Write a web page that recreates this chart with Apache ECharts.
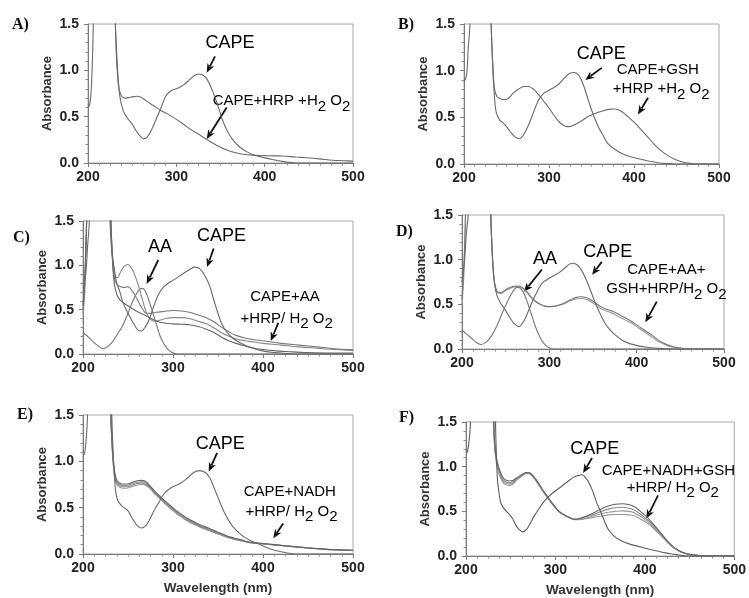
<!DOCTYPE html>
<html>
<head>
<meta charset="utf-8">
<script src="https://cdn.jsdelivr.net/npm/echarts/dist/echarts.min.js"></script>
<style>
  html, body { margin: 0; background: #fff; }
  #chart { width: 749px; height: 598px; }
</style>
</head>
<body>
<div id="chart"></div>
<script>
// UV-vis spectra, [wavelength nm, absorbance]; 3 = off scale (clipped at 1.5)
const A_cape = [[200,0.6],[202,0.63],[204,0.85],[206,1.5],[208,3],[229,3],[231,1.5],[233,1.0],[236,0.72],[240,0.56],[245,0.48],[250,0.42],[255,0.34],[260,0.28],[263,0.26],[267,0.28],[272,0.36],[277,0.47],[282,0.58],[288,0.72],[294,0.78],[300,0.8],[308,0.84],[315,0.9],[320,0.94],[325,0.96],[330,0.95],[335,0.9],[340,0.8],[346,0.65],[352,0.47],[358,0.34],[364,0.25],[372,0.17],[380,0.12],[390,0.08],[400,0.055],[410,0.035],[420,0.018],[430,0.006],[440,0],[500,0]];
const A_oxid = [[229,3],[231,1.5],[233,1.1],[235,0.82],[238,0.72],[242,0.7],[248,0.71],[255,0.72],[260,0.71],[266,0.67],[274,0.62],[282,0.57],[290,0.53],[297,0.49],[305,0.44],[312,0.39],[320,0.34],[327,0.3],[335,0.25],[342,0.21],[350,0.17],[357,0.14],[365,0.115],[372,0.1],[385,0.085],[395,0.08],[410,0.077],[421,0.075],[435,0.065],[447,0.057],[462,0.045],[477,0.03],[490,0.025],[500,0.02]];

const B_cape = [[200,0.88],[203,0.95],[205,1.25],[207,1.5],[209,3],[230,3],[232,1.5],[234,1.0],[236,0.7],[238,0.55],[242,0.47],[246,0.44],[250,0.4],[255,0.34],[260,0.29],[265,0.27],[270,0.31],[276,0.42],[282,0.56],[288,0.69],[294,0.76],[300,0.79],[306,0.82],[312,0.86],[318,0.92],[324,0.97],[330,0.98],[335,0.95],[340,0.86],[346,0.69],[352,0.53],[358,0.4],[364,0.3],[369,0.22],[377,0.16],[385,0.115],[395,0.08],[408,0.05],[418,0.03],[428,0.014],[440,0.004],[450,0],[500,0]];
const B_gsh = [[230,3],[232,1.5],[234,1.05],[236,0.8],[239,0.72],[243,0.7],[248,0.69],[252,0.7],[258,0.76],[264,0.8],[270,0.83],[276,0.83],[282,0.8],[288,0.74],[294,0.67],[300,0.6],[306,0.52],[312,0.45],[318,0.41],[323,0.4],[330,0.42],[338,0.46],[346,0.51],[354,0.54],[362,0.565],[370,0.585],[377,0.59],[384,0.57],[390,0.53],[396,0.48],[401,0.44],[408,0.37],[416,0.29],[424,0.21],[432,0.14],[440,0.09],[448,0.05],[456,0.025],[464,0.01],[472,0],[500,0]];

const C_cape = [[200,0.75],[203,0.9],[205,1.2],[207,1.5],[209,3],[228,3],[230,1.5],[232,1.15],[235,0.95],[237,0.82],[241,0.7],[244,0.59],[248,0.5],[252,0.42],[257,0.33],[261,0.27],[265,0.26],[269,0.3],[274,0.4],[278,0.52],[282,0.63],[286,0.71],[290,0.76],[295,0.8],[300,0.83],[306,0.87],[312,0.91],[318,0.95],[324,0.98],[330,0.96],[335,0.89],[341,0.76],[345,0.62],[349,0.49],[353,0.37],[358,0.27],[364,0.2],[372,0.14],[382,0.09],[392,0.055],[402,0.03],[414,0.015],[425,0.005],[435,0],[500,0]];
const C_aa = [[200,0.24],[205,0.2],[211,0.14],[217,0.09],[222,0.06],[227,0.08],[233,0.14],[238,0.22],[244,0.32],[250,0.46],[255,0.59],[260,0.69],[265,0.74],[268,0.73],[271,0.67],[275,0.55],[278,0.45],[282,0.32],[285,0.22],[289,0.13],[293,0.07],[297,0.03],[301,0.01],[305,0],[500,0]];
const C_mix1 = [[200,0.45],[202,0.7],[204,1.5],[206,3],[229,3],[231,1.5],[233,1.1],[235,0.88],[238,0.86],[242,0.93],[246,0.99],[250,1.01],[253,0.98],[256,0.93],[259,0.85],[262,0.76],[265,0.65],[268,0.54],[271,0.45],[275,0.39],[279,0.37],[285,0.38],[292,0.4],[300,0.41],[310,0.41],[318,0.4],[328,0.37],[337,0.34],[346,0.29],[354,0.24],[362,0.2],[370,0.17],[380,0.15],[390,0.135],[400,0.12],[420,0.1],[440,0.08],[460,0.065],[480,0.05],[500,0.04]];
const C_mix2 = [[200,0.5],[202,0.8],[204,1.5],[206,3],[229,3],[231,1.5],[233,1.05],[235,0.85],[238,0.78],[242,0.76],[246,0.75],[250,0.76],[254,0.72],[258,0.66],[262,0.58],[266,0.51],[270,0.46],[275,0.46],[281,0.47],[290,0.48],[300,0.49],[310,0.485],[318,0.47],[328,0.44],[337,0.41],[346,0.36],[354,0.3],[362,0.25],[370,0.21],[380,0.18],[390,0.16],[400,0.15],[420,0.12],[440,0.1],[460,0.08],[480,0.06],[500,0.05]];
const C_mix3 = [[200,0.55],[202,0.9],[204,1.5],[206,3],[229,3],[231,1.5],[233,1.0],[235,0.78],[238,0.66],[241,0.61],[246,0.57],[252,0.53],[258,0.49],[264,0.46],[270,0.43],[276,0.4],[282,0.37],[290,0.35],[300,0.34],[310,0.335],[318,0.33],[328,0.31],[337,0.28],[346,0.24],[354,0.19],[362,0.15],[370,0.12],[380,0.09],[390,0.065],[400,0.05],[415,0.035],[430,0.025],[450,0.015],[475,0.01],[500,0.01]];

const D_cape = [[200,0.75],[203,1.0],[205,1.3],[207,1.5],[209,3],[231,3],[233,1.5],[235,1.0],[237,0.75],[240,0.6],[245,0.5],[250,0.43],[255,0.35],[260,0.28],[265,0.25],[270,0.3],[275,0.4],[280,0.52],[286,0.64],[292,0.74],[298,0.78],[305,0.82],[312,0.86],[318,0.91],[323,0.95],[327,0.96],[332,0.94],[337,0.88],[342,0.78],[347,0.66],[352,0.53],[357,0.42],[362,0.32],[368,0.23],[375,0.16],[383,0.1],[392,0.06],[402,0.035],[412,0.02],[425,0.007],[440,0],[500,0]];
const D_aa = [[200,0.21],[205,0.17],[211,0.12],[217,0.07],[222,0.05],[228,0.08],[234,0.15],[240,0.26],[246,0.4],[252,0.53],[258,0.64],[263,0.69],[267,0.68],[271,0.62],[275,0.52],[279,0.4],[283,0.28],[287,0.18],[291,0.1],[295,0.05],[300,0.015],[305,0],[500,0]];
const D_mix1 = [[200,0.5],[202,0.8],[204,1.5],[206,3],[231,3],[233,1.5],[235,1.0],[237,0.75],[240,0.64],[244,0.62],[248,0.64],[253,0.67],[258,0.69],[263,0.7],[268,0.69],[273,0.65],[278,0.59],[283,0.54],[289,0.5],[295,0.475],[300,0.47],[306,0.475],[312,0.49],[318,0.51],[324,0.54],[330,0.56],[336,0.565],[341,0.56],[346,0.54],[352,0.5],[358,0.46],[364,0.43],[370,0.41],[376,0.38],[382,0.35],[388,0.32],[394,0.29],[400,0.25],[406,0.21],[412,0.17],[418,0.13],[424,0.09],[430,0.06],[436,0.035],[442,0.02],[450,0.008],[458,0.002],[465,0],[500,0]];
const D_mix2 = [[200,0.55],[202,0.9],[204,1.5],[206,3],[231,3],[233,1.5],[235,1.02],[237,0.77],[240,0.65],[244,0.63],[248,0.65],[253,0.68],[258,0.7],[263,0.705],[268,0.695],[273,0.655],[278,0.595],[283,0.545],[289,0.505],[295,0.48],[300,0.475],[306,0.48],[312,0.495],[318,0.52],[324,0.55],[330,0.575],[336,0.585],[341,0.58],[346,0.56],[352,0.52],[358,0.48],[364,0.45],[370,0.43],[376,0.405],[382,0.375],[388,0.345],[394,0.31],[400,0.27],[406,0.23],[412,0.19],[418,0.15],[424,0.105],[430,0.07],[436,0.045],[442,0.025],[450,0.01],[460,0.002],[470,0],[500,0]];

const E_cape = [[200,1.05],[202,1.1],[204,1.3],[205,1.5],[207,3],[230,3],[232,1.5],[234,1.0],[236,0.7],[238.5,0.58],[243,0.52],[249.6,0.47],[255,0.38],[260,0.31],[265,0.28],[270,0.31],[275,0.39],[279,0.47],[285,0.57],[290,0.65],[297,0.71],[303,0.74],[308,0.76],[315,0.81],[323,0.88],[329,0.9],[336,0.88],[341,0.82],[345,0.73],[350,0.61],[356,0.47],[362,0.36],[367,0.29],[372,0.24],[378,0.19],[387,0.14],[397,0.1],[404,0.07],[411,0.045],[420,0.025],[426,0.014],[437,0],[500,0]];
const E_mix1 = [[229,3],[231,1.5],[233,1.1],[235,0.9],[237,0.81],[240,0.77],[244,0.755],[248,0.755],[254,0.77],[260,0.79],[265,0.795],[270,0.78],[275,0.73],[280,0.675],[286,0.62],[292,0.565],[298,0.515],[304,0.465],[310,0.425],[316,0.385],[323,0.35],[330,0.315],[338,0.285],[345,0.255],[353,0.225],[360,0.195],[367,0.175],[375,0.155],[382,0.135],[390,0.122],[404,0.11],[415,0.098],[426,0.088],[437,0.078],[448,0.068],[462,0.058],[477,0.048],[490,0.043],[500,0.04]];
const E_mix2 = [[229,3],[231,1.5],[233,1.08],[235,0.88],[237,0.79],[240,0.755],[244,0.74],[248,0.74],[254,0.755],[260,0.775],[265,0.78],[270,0.765],[275,0.72],[280,0.665],[286,0.61],[292,0.555],[298,0.505],[304,0.455],[310,0.415],[316,0.375],[323,0.34],[330,0.305],[338,0.275],[345,0.245],[353,0.215],[360,0.19],[367,0.168],[375,0.15],[382,0.132],[390,0.12],[404,0.108],[415,0.097],[426,0.087],[437,0.077],[448,0.067],[462,0.057],[477,0.047],[490,0.042],[500,0.04]];
const E_mix3 = [[229,3],[231,1.5],[233,1.06],[235,0.86],[237,0.775],[240,0.74],[244,0.725],[248,0.725],[254,0.74],[260,0.76],[265,0.765],[270,0.75],[275,0.71],[280,0.655],[286,0.6],[292,0.545],[298,0.495],[304,0.445],[310,0.405],[316,0.365],[323,0.33],[330,0.297],[338,0.267],[345,0.238],[353,0.21],[360,0.185],[367,0.164],[375,0.146],[382,0.13],[390,0.118],[404,0.106],[415,0.096],[426,0.086],[437,0.076],[448,0.066],[462,0.056],[477,0.046],[490,0.041],[500,0.04]];
const E_mix4 = [[229,3],[231,1.5],[233,1.04],[235,0.84],[237,0.76],[240,0.725],[244,0.71],[248,0.71],[254,0.725],[260,0.745],[265,0.75],[270,0.74],[275,0.7],[280,0.645],[286,0.59],[292,0.535],[298,0.485],[304,0.435],[310,0.395],[316,0.355],[323,0.32],[330,0.29],[338,0.26],[345,0.232],[353,0.205],[360,0.18],[367,0.16],[375,0.143],[382,0.128],[390,0.116],[404,0.104],[415,0.095],[426,0.085],[437,0.075],[448,0.065],[462,0.055],[477,0.045],[490,0.04],[500,0.038]];

const F_cape = [[201,1.15],[203,1.25],[205,1.5],[207,3],[231,3],[233,1.5],[235,0.88],[237,0.7],[239,0.59],[242.6,0.53],[248,0.47],[252,0.42],[255.5,0.35],[259,0.3],[263.7,0.27],[268,0.3],[272,0.37],[277,0.46],[283,0.55],[288,0.62],[294,0.68],[300,0.73],[305.5,0.77],[312,0.82],[320,0.88],[325,0.9],[329.6,0.91],[335,0.86],[339,0.79],[342.6,0.7],[346,0.6],[350,0.51],[354,0.41],[359,0.3],[366,0.22],[373.5,0.17],[384,0.13],[395.6,0.1],[405,0.075],[414,0.055],[423,0.035],[432,0.02],[440,0.008],[448,0],[500,0]];
const F_mix1 = [[229,3],[231,1.5],[232,1.28],[234,1.1],[237,0.98],[240,0.9],[243,0.86],[248,0.84],[252,0.845],[256,0.87],[262,0.91],[267,0.935],[270,0.935],[274,0.91],[278,0.86],[282,0.8],[287,0.72],[292,0.65],[298,0.57],[304,0.5],[310,0.46],[316,0.43],[322,0.41],[330,0.43],[340,0.47],[350,0.52],[359,0.56],[367,0.58],[375,0.585],[382,0.575],[388,0.555],[395,0.5],[403,0.43],[410,0.35],[417.6,0.26],[425,0.17],[432,0.1],[440,0.05],[447,0.025],[455,0.01],[462,0.003],[470,0],[500,0]];
const F_mix2 = [[229,3],[231,1.5],[232,1.26],[234,1.08],[237,0.96],[240,0.88],[243,0.84],[248,0.82],[252,0.83],[256,0.86],[262,0.9],[267,0.93],[270,0.93],[274,0.905],[278,0.855],[282,0.795],[287,0.72],[292,0.65],[298,0.57],[304,0.5],[310,0.46],[316,0.43],[322,0.41],[330,0.425],[340,0.455],[350,0.495],[359,0.525],[367,0.54],[375,0.545],[382,0.535],[388,0.515],[395,0.47],[403,0.405],[410,0.335],[417.6,0.25],[425,0.165],[432,0.1],[440,0.05],[447,0.025],[455,0.01],[462,0.003],[470,0],[500,0]];
const F_mix3 = [[229,3],[231,1.5],[232,1.24],[234,1.06],[237,0.94],[240,0.86],[243,0.82],[248,0.805],[252,0.815],[256,0.85],[262,0.895],[267,0.925],[270,0.925],[274,0.9],[278,0.85],[282,0.79],[287,0.715],[292,0.645],[298,0.565],[304,0.5],[310,0.46],[316,0.43],[322,0.41],[330,0.42],[340,0.44],[350,0.47],[359,0.49],[367,0.5],[375,0.505],[382,0.5],[388,0.485],[395,0.445],[403,0.385],[410,0.32],[417.6,0.24],[425,0.16],[432,0.095],[440,0.048],[447,0.024],[455,0.01],[462,0.003],[470,0],[500,0]];
const F_mix4 = [[229,3],[231,1.5],[232,1.22],[234,1.04],[237,0.92],[240,0.845],[243,0.805],[248,0.79],[252,0.8],[256,0.84],[262,0.89],[267,0.92],[270,0.92],[274,0.895],[278,0.845],[282,0.785],[287,0.71],[292,0.64],[298,0.56],[304,0.495],[310,0.455],[316,0.425],[322,0.405],[330,0.41],[340,0.425],[350,0.445],[359,0.46],[367,0.465],[375,0.465],[382,0.46],[388,0.45],[395,0.415],[403,0.365],[410,0.305],[417.6,0.23],[425,0.155],[432,0.092],[440,0.046],[447,0.023],[455,0.01],[462,0.003],[470,0],[500,0]];

const xTicks = [200, 300, 400, 500];
const yTicks = [0, 0.5, 1.0, 1.5];

const H2O2 = '{s|2}{a| O}{s|2}';
const panels = [
  {tag: 'A)', box: [88, 24, 265, 139], tagAt: [12, 25], xName: false,
   lines: [[A_cape, '#6a6a6a'], [A_oxid, '#6a6a6a']],
   notes: [[360.7, 1.29, '{b|CAPE}'], [419, 0.67, '{a|CAPE+HRP +H}' + H2O2]],
   arrows: [[343.8, 1.15, 334.4, 0.975], [357, 0.6, 334.4, 0.26]]},
  {tag: 'B)', box: [464, 24, 255, 140], tagAt: [398, 25], xName: false,
   lines: [[B_cape, '#6a6a6a'], [B_gsh, '#6a6a6a']],
   notes: [[361.6, 1.18, '{b|CAPE}'], [428, 1.01, '{a|CAPE+GSH}'], [432, 0.8, '{a|+HRP +H}' + H2O2]],
   arrows: [[362, 1.03, 342.7, 0.9], [416.5, 0.71, 404.7, 0.53]]},
  {tag: 'C)', box: [83, 221, 270, 133], tagAt: [13, 238], xName: false,
   lines: [[C_aa, '#777'], [C_mix1, '#888'], [C_mix2, '#777'], [C_mix3, '#666'], [C_cape, '#6a6a6a']],
   notes: [[285.6, 1.21, '{b|AA}'], [354, 1.33, '{b|CAPE}'], [424.4, 0.64, '{a|CAPE+AA}'], [426.3, 0.4, '{a|+HRP/ H}' + H2O2]],
   arrows: [[283.7, 1.06, 270.7, 0.79], [345.2, 1.19, 337.8, 0.98], [417, 0.35, 408.6, 0.147]]},
  {tag: 'D)', box: [462, 215, 262, 134], tagAt: [396, 232], xName: false,
   lines: [[D_aa, '#777'], [D_mix1, '#999'], [D_mix2, '#777'], [D_cape, '#6a6a6a']],
   notes: [[295, 1.01, '{b|AA}'], [367, 1.08, '{b|CAPE}'], [434, 0.89, '{a|CAPE+AA+}'], [434, 0.67, '{a|GSH+HRP/H}' + H2O2]],
   arrows: [[291.5, 0.89, 271, 0.64], [360, 0.975, 349, 0.83], [423, 0.53, 410, 0.3]]},
  {tag: 'E)', box: [83, 415, 270, 139], tagAt: [17, 415], xName: true,
   lines: [[E_mix4, '#999'], [E_mix3, '#888'], [E_mix2, '#888'], [E_mix1, '#666'], [E_cape, '#6a6a6a']],
   notes: [[352.6, 1.19, '{b|CAPE}'], [429.8, 0.67, '{a|CAPE+NADH}'], [431.6, 0.46, '{a|+HRP/ H}' + H2O2]],
   arrows: [[349, 1.09, 339.7, 0.89], [422.4, 0.33, 411.4, 0.17]]},
  {tag: 'F)', box: [466, 422, 271, 135], tagAt: [399, 418], xName: true,
   lines: [[F_mix4, '#999'], [F_mix3, '#999'], [F_mix2, '#888'], [F_mix1, '#666'], [F_cape, '#5e5e5e']],
   notes: [[343.9, 1.197, '{b|CAPE}'], [426.3, 0.948, '{a|CAPE+NADH+GSH}'], [431.3, 0.763, '{a|+HRP/ H}' + H2O2]],
   arrows: [[340.9, 1.097, 330.9, 0.93], [414.7, 0.678, 401.7, 0.419]]}
];

const FONT = '"Liberation Sans", Arial, sans-serif';
const rich = {
  a: {fontSize: 15, fontFamily: FONT, color: '#111'},
  b: {fontSize: 18, fontFamily: FONT, color: '#111'},
  s: {fontSize: 15, fontFamily: FONT, color: '#111', padding: [11, 0, 0, 0]}
};

const chart = echarts.init(document.getElementById('chart'));
const axisGray = '#7a7a7a';
const labelStyle = {fontSize: 14, fontWeight: 'bold', color: '#222', fontFamily: FONT};

const option = {
  animation: false,
  backgroundColor: '#fff',
  grid: panels.map(p => ({left: p.box[0], top: p.box[1], width: p.box[2], height: p.box[3],
    show: true, borderColor: '#a8a8a8', borderWidth: 1, backgroundColor: 'transparent'})),
  xAxis: panels.map((p, i) => ({
    gridIndex: i, type: 'value', min: xTicks[0], max: xTicks[xTicks.length - 1], interval: 100,
    name: p.xName ? 'Wavelength (nm)' : '', nameLocation: 'middle', nameGap: 27,
    nameTextStyle: {fontSize: 13.5, fontWeight: 'bold', color: '#333', fontFamily: FONT},
    axisLine: {show: true, onZero: false, lineStyle: {color: axisGray}},
    axisTick: {show: true, length: 4, lineStyle: {color: axisGray}},
    minorTick: {show: true, splitNumber: 8, length: 2.5, lineStyle: {color: '#8a8a8a'}},
    splitLine: {show: false},
    axisLabel: Object.assign({margin: 7}, labelStyle)
  })),
  yAxis: panels.map((p, i) => ({
    gridIndex: i, type: 'value', min: yTicks[0], max: yTicks[yTicks.length - 1], interval: 0.5,
    name: 'Absorbance', nameLocation: 'middle', nameGap: 34, nameRotate: 90,
    nameTextStyle: {fontSize: 13, fontWeight: 'bold', color: '#333', fontFamily: FONT},
    axisLine: {show: true, lineStyle: {color: axisGray}},
    axisTick: {show: true, length: 4, lineStyle: {color: axisGray}},
    minorTick: {show: true, splitNumber: 5, length: 2.5, lineStyle: {color: '#8a8a8a'}},
    splitLine: {show: false},
    axisLabel: Object.assign({margin: 9, formatter: v => v.toFixed(1)}, labelStyle)
  })),
  series: []
};

panels.forEach((p, i) => {
  p.lines.forEach(([data, color]) => {
    option.series.push({
      type: 'line', xAxisIndex: i, yAxisIndex: i, data: data,
      showSymbol: false, smooth: 0.35, clip: true, silent: true,
      lineStyle: {color: color, width: 1.1}
    });
  });
});

chart.setOption(option);

// annotations: texts and arrows placed in data space, converted to pixels
const graphics = [];
panels.forEach((p, i) => {
  graphics.push({type: 'text', x: p.tagAt[0], y: p.tagAt[1],
    style: {text: p.tag, font: 'bold 16px "Liberation Serif", "Times New Roman", serif', fill: '#111',
      textAlign: 'left', textVerticalAlign: 'middle'}});
  p.notes.forEach(([x, y, t]) => {
    const pt = chart.convertToPixel({gridIndex: i}, [x, y]);
    graphics.push({type: 'text', x: pt[0], y: pt[1],
      style: {text: t, rich: rich, textAlign: 'center', textVerticalAlign: 'middle'}});
  });
  p.arrows.forEach(([x0, y0, x1, y1]) => {
    const a = chart.convertToPixel({gridIndex: i}, [x0, y0]);
    const b = chart.convertToPixel({gridIndex: i}, [x1, y1]);
    const dx = b[0] - a[0], dy = b[1] - a[1];
    const len = Math.hypot(dx, dy), ux = dx / len, uy = dy / len;
    const hl = 9, hw = 3.8;
    const bx = b[0] - ux * hl, by = b[1] - uy * hl;
    graphics.push({type: 'line', shape: {x1: a[0], y1: a[1], x2: bx + ux * 2, y2: by + uy * 2},
      style: {stroke: '#111', lineWidth: 1.8}});
    graphics.push({type: 'polygon', shape: {points: [[b[0], b[1]],
      [bx - uy * hw, by + ux * hw], [b[0] - ux * (hl - 2.5), b[1] - uy * (hl - 2.5)], [bx + uy * hw, by - ux * hw]]},
      style: {fill: '#111'}});
  });
});
chart.setOption({graphic: graphics});
</script>
</body>
</html>
